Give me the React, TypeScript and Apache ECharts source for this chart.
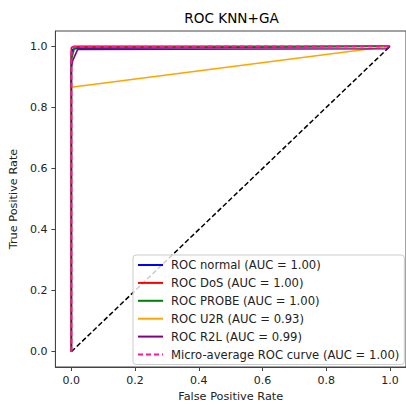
import React, { useEffect, useRef } from "react";
import * as echarts from "echarts";

const titleText = "ROC KNN+GA";
const xTicks = [0, 0.2, 0.4, 0.6, 0.8, 1.0];
const yTicks = [0, 0.2, 0.4, 0.6, 0.8, 1.0];

const normalRoc: [number, number][] = [[0, 0], [0, 0.975], [0.005, 0.99], [0.02, 0.994], [1, 1]];
const dosRoc: [number, number][] = [[0, 0], [0, 0.995], [0.008, 1.0], [1, 1]];
const probeRoc: [number, number][] = [[0, 0], [0, 0.955], [0.005, 0.975], [0.01, 0.995], [1, 1]];
const u2rRoc: [number, number][] = [[0, 0], [0, 0.866], [1, 1]];
const r2lRoc: [number, number][] = [[0, 0], [0, 0.93], [0.004, 0.952], [0.02, 0.99], [0.99, 0.992], [1, 1]];
const microRoc: [number, number][] = [[0, 0], [0, 0.99], [0.005, 0.998], [1, 1]];
const chanceLine: [number, number][] = [[0, 0], [1, 1]];

const seriesNames = [
  "ROC normal (AUC = 1.00)",
  "ROC DoS (AUC = 1.00)",
  "ROC PROBE (AUC = 1.00)",
  "ROC U2R (AUC = 0.93)",
  "ROC R2L (AUC = 0.99)",
  "Micro-average ROC curve (AUC = 1.00)",
];
const seriesColors = ["#0000ff", "#ff0000", "#008000", "#ffa500", "#800080", "#ff1493"];
const seriesData = [normalRoc, dosRoc, probeRoc, u2rRoc, r2lRoc, microRoc];

const FONT = "DejaVu Sans";

export default function App() {
  const ref = useRef<HTMLDivElement>(null);
  useEffect(() => {
    if (!ref.current) return;
    const chart = echarts.init(ref.current, null, { renderer: "svg" });
    const fmt = (v: number) => v.toFixed(1);
    const series: any[] = seriesData.map((d, i) => ({
      name: seriesNames[i],
      type: "line",
      data: d,
      showSymbol: false,
      symbol: "none",
      z: 3 + i,
      lineStyle: {
        color: seriesColors[i],
        width: i === 5 ? 2 : 1.6,
        type: i === 5 ? [5, 3] : "solid",
      },
      itemStyle: { color: seriesColors[i] },
    }));
    series.push({
      name: "chance",
      type: "line",
      data: chanceLine,
      symbol: "none",
      z: 2,
      lineStyle: { color: "#000", width: 1.5, type: [5, 2.5] },
    });
    chart.setOption({
      animation: false,
      backgroundColor: "#fff",
      title: {
        text: titleText,
        left: 231.5,
        top: 11,
        padding: 0,
        textAlign: "center",
        textStyle: { fontFamily: FONT, fontSize: 13.6, fontWeight: "normal", color: "#000" },
      },
      grid: {
        left: 53,
        top: 31,
        width: 359,
        height: 339,
        show: true,
        borderColor: "#444",
        borderWidth: 1,
        backgroundColor: "transparent",
      },
      legend: {
        orient: "vertical",
        left: 133,
        top: 255,
        z: 20,
        data: seriesNames,
        itemWidth: 25,
        itemHeight: 12,
        itemGap: 5.9,
        padding: [4, 5, 4, 4],
        itemStyle: { opacity: 0 },
        backgroundColor: "rgba(255,255,255,0.8)",
        borderColor: "#cccccc",
        borderWidth: 1,
        borderRadius: 3,
        textStyle: { fontFamily: FONT, fontSize: 11.6, color: "#222", padding: [0, 0, 0, 3] },
      },
      xAxis: {
        type: "value",
        min: -0.05,
        max: 1.05,
        name: "False Positive Rate",
        nameLocation: "middle",
        nameGap: 24,
        nameTextStyle: { fontFamily: FONT, fontSize: 11.3, color: "#222" },
        splitLine: { show: false },
        axisLine: { show: true, onZero: false, lineStyle: { color: "#444", width: 1 } },
        axisTick: { show: true, customValues: xTicks, length: 4, lineStyle: { color: "#444" } },
        axisLabel: { customValues: xTicks, formatter: fmt, margin: 8, fontFamily: FONT, fontSize: 11, color: "#222" },
      },
      yAxis: {
        type: "value",
        min: -0.05,
        max: 1.05,
        name: "True Positive Rate",
        nameLocation: "middle",
        nameGap: 33,
        nameTextStyle: { fontFamily: FONT, fontSize: 11.3, color: "#222" },
        splitLine: { show: false },
        axisLine: { show: true, onZero: false, lineStyle: { color: "#444", width: 1 } },
        axisTick: { show: true, customValues: yTicks, length: 4, lineStyle: { color: "#444" } },
        axisLabel: { customValues: yTicks, formatter: fmt, margin: 8, fontFamily: FONT, fontSize: 11, color: "#222" },
      },
      series,
    });
    return () => chart.dispose();
  }, []);
  return (
    <div
      ref={ref}
      style={{ position: "absolute", left: 0, top: 0, width: 406, height: 407, overflow: "hidden" }}
    />
  );
}
